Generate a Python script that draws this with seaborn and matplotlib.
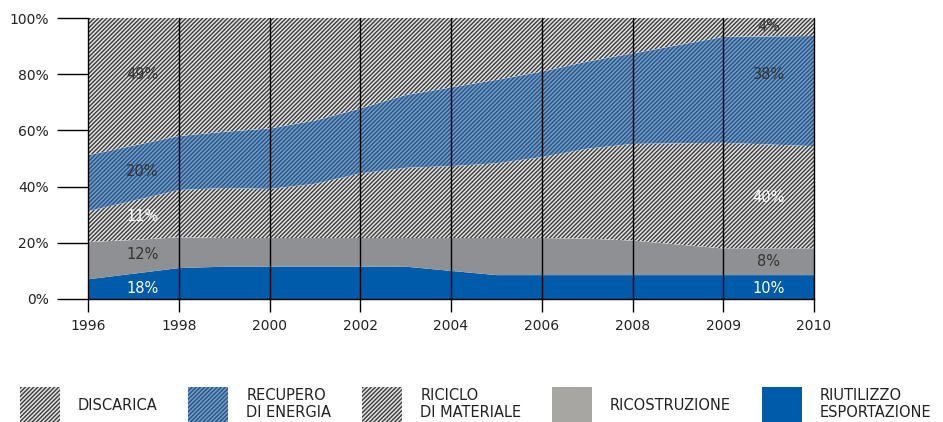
import numpy as np
import pandas as pd
import matplotlib
matplotlib.use("Agg")
import matplotlib.pyplot as plt
import matplotlib.patches as mpatches
from matplotlib.colors import to_hex
import seaborn as sns
import seaborn.objects as so

# ---------------- data (percent share of each destination) ----------------
years = [1996, 1997, 1998, 1999, 2000, 2001, 2002, 2003, 2004, 2005,
         2006, 2007, 2008, 2009, 2010]
tick_years = [1996, 1998, 2000, 2002, 2004, 2006, 2008, 2009, 2010]
tick_labels = ["1996", "1998", "2000", "2002", "2004", "2006", "2008", "2009", "2010"]

riutilizzo = [7.0, 9.0, 11.0, 11.5, 11.5, 11.5, 11.5, 11.5, 10.0, 8.5,
              8.5, 8.5, 8.5, 8.5, 8.5]
ricostruzione = [13.3, 12.0, 11.0, 10.2, 10.2, 10.2, 10.2, 10.2, 11.7, 13.2,
                 13.2, 13.0, 12.3, 9.5, 9.5]
riciclo = [11.0, 14.0, 16.8, 17.8, 17.5, 19.3, 23.0, 25.0, 25.6, 26.6,
           28.8, 32.0, 34.4, 37.6, 36.4]
recupero = [19.9, 19.6, 19.2, 20.0, 21.5, 22.5, 23.1, 25.9, 28.0, 29.7,
            30.4, 31.0, 32.2, 37.7, 39.2]
discarica = [48.8, 45.4, 42.0, 40.5, 39.3, 36.5, 32.2, 27.4, 24.7, 22.0,
             19.1, 15.5, 12.6, 6.7, 6.4]

layer_names = ["RIUTILIZZO\nESPORTAZIONE", "RICOSTRUZIONE",
               "RICICLO\nDI MATERIALE", "RECUPERO\nDI ENERGIA", "DISCARICA"]
layer_values = [riutilizzo, ricostruzione, riciclo, recupero, discarica]

left_labels = ["18%", "12%", "11%", "20%", "49%"]
right_labels = ["10%", "8%", "40%", "38%", "4%"]

# ---------------- styles ----------------
face = ["#005baa", "#8f9093", "#e2e2e2", "#6f9dcc", "#e2e2e2"]
hatch_col = ["#005baa", "#8f9093", "#3c3c3c", "#2b527f", "#3c3c3c"]
hatches = [None, None, "////////", "////////", "////////"]
legend_face = ["#005baa", "#a8a6a2", "#e2e2e2", "#6f9dcc", "#e2e2e2"]
label_col = ["white", "#333333", "white", "#333333", "#333333"]
left_label_y = [3.9, 15.7, 29.5, 45.2, 80.0]
right_label_y = [3.9, 13.5, 36.0, 80.0, 96.8]
placeholders = ["#ff0000", "#00ff00", "#0000ff", "#ffff00", "#00ffff"]

tick_pos = np.arange(len(tick_years))
pos = np.interp(years, tick_years, tick_pos)

rows = []
for name, vals in zip(layer_names, layer_values):
    for p, v in zip(pos, vals):
        rows.append({"pos": p, "value": v, "layer": name})
df = pd.DataFrame(rows)

sns.set_theme(style="white")
plt.rcParams["font.family"] = ["DejaVu Sans"]
plt.rcParams["hatch.linewidth"] = 1.0

fig = plt.figure(figsize=(9.43, 4.22), dpi=100)
ax = fig.add_axes([88 / 943, 1 - 299 / 422, (814 - 88) / 943, (299 - 18) / 422])

(
    so.Plot(df, x="pos", y="value", color="layer")
    .add(so.Area(alpha=1, edgewidth=0), so.Stack(), legend=False)
    .scale(color=so.Nominal(dict(zip(layer_names, placeholders)), order=layer_names))
    .on(ax)
    .plot()
)

for patch in list(ax.patches):
    hx = to_hex(patch.get_facecolor(), keep_alpha=False)
    if hx in placeholders:
        i = placeholders.index(hx)
        patch.set_facecolor(face[i])
        patch.set_edgecolor(hatch_col[i])
        patch.set_linewidth(0)
        patch.set_antialiased(False)
        if hatches[i]:
            patch.set_hatch(hatches[i])
        patch.set_zorder(1)

ax.set_facecolor("white")
ax.set_xlim(tick_pos[0], tick_pos[-1])
ax.set_ylim(0, 100)
ax.set_xlabel("")
ax.set_ylabel("")
ax.set_xticks(tick_pos)
ax.set_xticklabels(tick_labels)
ax.set_yticks([0, 20, 40, 60, 80, 100])
ax.set_yticklabels(["0%", "20%", "40%", "60%", "80%", "100%"])
for s in ["top", "right", "left"]:
    ax.spines[s].set_visible(False)
ax.spines["bottom"].set_visible(True)
ax.spines["bottom"].set_color("black")
ax.spines["bottom"].set_linewidth(1.0)
ax.spines["bottom"].set_zorder(3)
ax.set_axisbelow(False)
ax.grid(False)
ax.grid(axis="x", color="black", linewidth=1.0)
for gl in ax.get_xgridlines():
    gl.set_clip_on(False)
    gl.set_zorder(3)
ax.tick_params(axis="x", direction="out", length=9.4, width=1.0, color="black",
               pad=5, labelsize=10, labelcolor="#222222", bottom=True)
ax.tick_params(axis="y", direction="out", length=22.3, width=1.0, color="black",
               pad=6, labelsize=10, labelcolor="#222222", left=True)

for i in range(len(layer_names)):
    ax.text(0.6, left_label_y[i], left_labels[i], ha="center", va="center",
            fontsize=10.5, color=label_col[i], zorder=4)
    ax.text(7.5, right_label_y[i], right_labels[i], ha="center", va="center",
            fontsize=10.5, color=label_col[i], zorder=4)

handles = []
order = [4, 3, 2, 1, 0]
for i in order:
    handles.append(mpatches.Patch(facecolor=legend_face[i], edgecolor=hatch_col[i],
                                  hatch=hatches[i], linewidth=0))
fig.legend(handles, [layer_names[i] for i in order], ncol=5, loc="lower left",
           bbox_to_anchor=(20 / 943, -3 / 422), frameon=False, fontsize=10.5,
           handlelength=2.74, handleheight=3.6, handletextpad=1.24,
           columnspacing=2.1, borderpad=0.0, borderaxespad=0, labelcolor="#222222")

fig.savefig("out.png", dpi=100)
